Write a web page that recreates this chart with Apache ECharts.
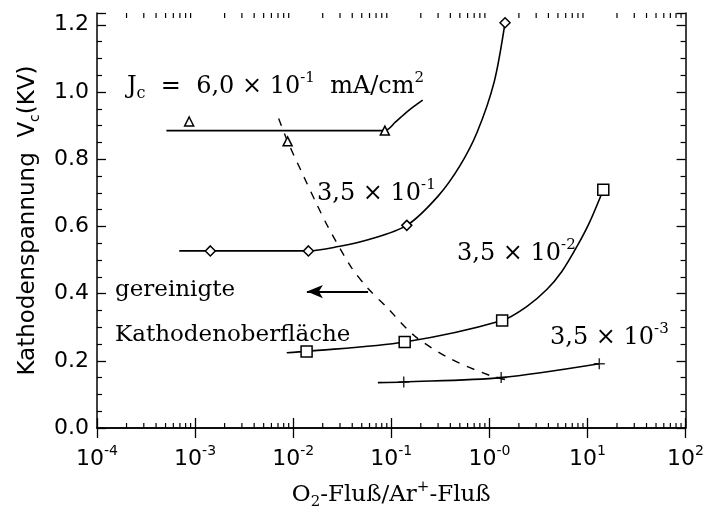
<!DOCTYPE html>
<html><head><meta charset="utf-8">
<script src="https://cdn.jsdelivr.net/npm/echarts@6/dist/echarts.min.js"></script>
<style>html,body{margin:0;padding:0;background:#fff}#c{width:707px;height:515px}</style>
</head><body><div id="c"></div>
<script>
// ---- tick labels ----
const xTickExponents = ['-4','-3','-2','-1','-0','1','2'];
const yTickLabels = ['0.0','0.2','0.4','0.6','0.8','1.0','1.2'];

// ---- J_c = 6,0e-1 mA/cm2 (triangles) ----
const curveA = [[5.1e-4,0.885],[0.086,0.885],[0.11,0.91],[0.137,0.935],[0.17,0.957],[0.209,0.976]];
const markersA = [[8.7e-4,0.912],[8.77e-3,0.853],[0.086,0.885]];
// ---- 3,5e-1 (diamonds) ----
const curveB = [[6.9e-4,0.527],[0.0143,0.527],[0.029,0.54],[0.058,0.56],[0.144,0.603],[0.3,0.69],[0.5,0.78],[0.75,0.88],[1.12,1.03],[1.445,1.206]];
const markersB = [[1.43e-3,0.527],[0.0143,0.527],[0.144,0.603],[1.445,1.206]];
// ---- 3,5e-2 (squares) ----
const curveC = [[8.6e-3,0.224],[0.0137,0.228],[0.137,0.256],[1.35,0.32],[2.42,0.362],[3.85,0.412],[5.46,0.465],[7.74,0.538],[10.5,0.612],[14.5,0.709]];
const markersC = [[0.0137,0.228],[0.137,0.256],[1.35,0.32],[14.5,0.709]];
// ---- 3,5e-3 (crosses) ----
const curveD = [[0.073,0.135],[0.134,0.137],[1.32,0.15],[13.2,0.191]];
const markersD = [[0.134,0.137],[1.32,0.15],[13.2,0.191]];
// ---- dashed transition curve ----
const dashedCurve = [[7.11e-3,0.921],[8.77e-3,0.853],[0.01274,0.75],[0.01725,0.668],[0.0228,0.597],[0.039,0.479],[0.058,0.415],[0.0881,0.362],[0.173,0.274],[0.401,0.206],[1.02,0.156],[1.63,0.141]];
// ---- arrow (gereinigte Kathodenoberfläche) ----
const arrowFrom = [0.058,0.406];
const arrowTo = [0.0138,0.406];

const chart = echarts.init(document.getElementById('c'));
const serif = 'DejaVu Serif';
const sans = 'DejaVu Sans';
const axisLine = {show:true, lineStyle:{color:'#000', width:1.5}};

// minor log ticks 2..9 per decade (axis decoration)
const minorLog = [];
for (let k = -4; k < 2; k++) for (let m = 2; m <= 9; m++) minorLog.push([m * Math.pow(10, k), 0]);

function line(data, extra) {
  return Object.assign({type:'line', data, smooth:0.3, showSymbol:false, symbol:'none',
    lineStyle:{color:'#000', width:1.6}, silent:true, z:3}, extra || {});
}
function marks(data, symbol, size) {
  return {type:'scatter', data, symbol, symbolSize:size, silent:true, z:5,
    itemStyle:{color:'#fff', borderColor:'#000', borderWidth:1.5, opacity:1}};
}
const sup = {fontFamily:serif, fontSize:15, lineHeight:15, verticalAlign:'top', color:'#000'};
const sub = {fontFamily:serif, fontSize:16, lineHeight:16, verticalAlign:'bottom', color:'#000'};
const nrm = {fontFamily:serif, fontSize:24, lineHeight:31, color:'#000'};

const option = {
  animation:false,
  backgroundColor:'#fff',
  grid:{left:97, right:17, top:13, bottom:82},
  xAxis:[{
    type:'log', logBase:10, min:1e-4, max:100, position:'bottom',
    axisLine, axisTick:{show:true, inside:true, length:10, lineStyle:{color:'#000', width:1.3}},
    splitLine:{show:false},
    axisLabel:{margin:16, color:'#000',
      formatter:(v)=>{const e=Math.round(Math.log10(v)); const i=e+4; return '{b|10}{s|'+xTickExponents[i]+'}';},
      rich:{b:{fontFamily:sans, fontSize:22, lineHeight:26, verticalAlign:'bottom', color:'#000'},
            s:{fontFamily:sans, fontSize:14, lineHeight:14, verticalAlign:'top', color:'#000'}}},
    name:'O{s|2}-Fluß/Ar{p|+}-Fluß', nameLocation:'middle', nameGap:52,
    nameTextStyle:{fontFamily:serif, fontSize:23, color:'#000', lineHeight:30,
      rich:{s:{fontFamily:serif, fontSize:15, lineHeight:15, verticalAlign:'bottom', color:'#000'},
            p:{fontFamily:serif, fontSize:15, lineHeight:15, verticalAlign:'top', color:'#000'}}}
  },{
    type:'log', logBase:10, min:1e-4, max:100, position:'top',
    axisLine, axisTick:{show:true, inside:true, length:10, lineStyle:{color:'#000', width:1.3}},
    splitLine:{show:false}, axisLabel:{show:false}
  }],
  yAxis:[{
    type:'value', min:0, max:1.235, interval:0.2, position:'left',
    axisLine, axisTick:{show:true, inside:true, length:9, lineStyle:{color:'#000', width:1.3}},
    minorTick:{show:true, splitNumber:4, length:5, lineStyle:{color:'#000', width:1.2}},
    splitLine:{show:false},
    axisLabel:{margin:8, color:'#000', fontFamily:sans, fontSize:22,
      formatter:(v)=>{const i=Math.round(v/0.2); return Math.abs(v-i*0.2)<1e-6 && yTickLabels[i] ? yTickLabels[i] : '';}},
    name:'{a|Kathodenspannung  V}{s|c}{a|(KV)}', nameLocation:'middle', nameRotate:90, nameGap:55,
    nameTextStyle:{color:'#000', rich:{a:{fontFamily:sans, fontSize:23, lineHeight:28, color:'#000'},
      s:{fontFamily:sans, fontSize:14, lineHeight:14, verticalAlign:'bottom', color:'#000'}}}
  },{
    type:'value', min:0, max:1.235, interval:0.2, position:'right',
    axisLine, axisTick:{show:true, inside:true, length:9, lineStyle:{color:'#000', width:1.3}},
    minorTick:{show:true, splitNumber:4, length:5, lineStyle:{color:'#000', width:1.2}},
    splitLine:{show:false}, axisLabel:{show:false}
  }],
  graphic:[
    {type:'text', left:127, top:71, silent:true, style:{
      text:'{n|J}{b|c}{n|  =  6,0 × 10}{s|-1}{n|  mA/cm}{s|2}', rich:{n:nrm, s:sup, b:sub}}},
    {type:'text', left:317, top:178, silent:true, style:{
      text:'{n|3,5 × 10}{s|-1}', rich:{n:nrm, s:sup}}},
    {type:'text', left:457, top:238, silent:true, style:{
      text:'{n|3,5 × 10}{s|-2}', rich:{n:nrm, s:sup}}},
    {type:'text', left:550, top:322, silent:true, style:{
      text:'{n|3,5 × 10}{s|-3}', rich:{n:nrm, s:sup}}},
    {type:'text', left:115, top:279, silent:true, style:{
      text:'gereinigte', fontFamily:serif, fontSize:23, fill:'#000'}},
    {type:'text', left:115, top:324, silent:true, style:{
      text:'Kathodenoberfläche', fontFamily:serif, fontSize:23, fill:'#000'}}
  ],
  series:[
    {type:'custom', silent:true, data:minorLog, z:2,
      renderItem:(params, api)=>{
        const cs = params.coordSys; const x = api.coord([api.value(0), 0.5])[0];
        const st = {stroke:'#000', lineWidth:1.2};
        return {type:'group', children:[
          {type:'line', shape:{x1:x, y1:cs.y+cs.height, x2:x, y2:cs.y+cs.height-5}, style:st},
          {type:'line', shape:{x1:x, y1:cs.y, x2:x, y2:cs.y+5}, style:st}
        ]};
      }},
    line(curveA),
    line(curveB),
    line(curveC),
    line(curveD, {markLine:{silent:true, symbol:['arrow','none'], symbolSize:[10,16],
      lineStyle:{color:'#000', width:2.2, type:'solid'}, label:{show:false},
      data:[[{coord:arrowTo},{coord:arrowFrom}]]}}),
    line(dashedCurve, {lineStyle:{color:'#000', width:1.4, type:[8,8]}}),
    marks(markersA, 'triangle', 9),
    marks(markersB, 'diamond', 10),
    marks(markersC, 'rect', 11),
    {type:'scatter', data:markersD, symbol:'path://M5,0L5,10M0,5L10,5', symbolSize:11, silent:true, z:5,
      itemStyle:{color:'none', borderColor:'#000', borderWidth:1.5}}
  ]
};
chart.setOption(option);
</script>
</body></html>
